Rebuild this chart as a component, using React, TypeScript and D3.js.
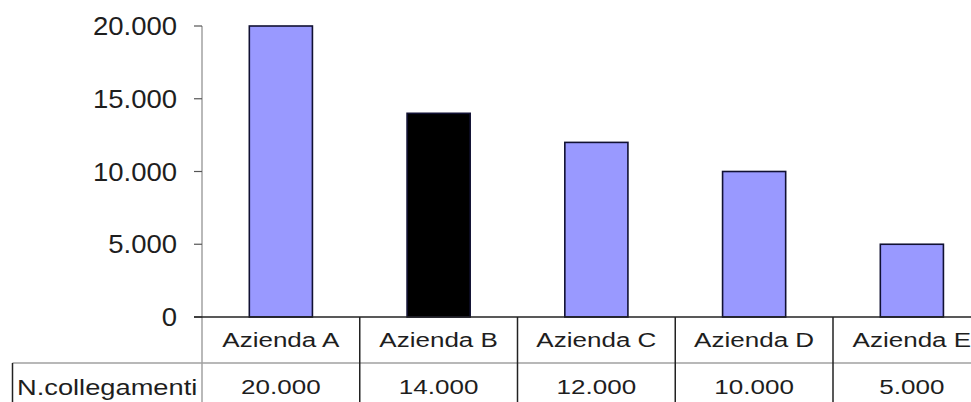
import React from "react";
import * as d3 from "d3";

const categories = ["Azienda A", "Azienda B", "Azienda C", "Azienda D", "Azienda E"];
const values = [20000, 14000, 12000, 10000, 5000];
const barColors = ["#9999ff", "#000000", "#9999ff", "#9999ff", "#9999ff"];
const yTicks = [0, 5000, 10000, 15000, 20000];
const rowLabel = "N.collegamenti";

const W = 971;
const H = 402;
const axisX = 202;
const step = 157.75;
const y0 = 317;
const yTop = 26;
const rowLineY = 363;
const font = "'Liberation Sans', Arial, sans-serif";
const textColor = "#1e1e1e";

const itLocale = d3.formatLocale({ decimal: ",", thousands: ".", grouping: [3], currency: ["€", ""] });
const fmt = itLocale.format(",");

export default function App() {
  const x = d3
    .scaleBand<string>()
    .domain(categories)
    .range([axisX, axisX + step * categories.length])
    .paddingInner(0.6)
    .paddingOuter(0.3);
  const y = d3.scaleLinear().domain([0, 20000]).range([y0, yTop]);
  const st = x.step();
  const bw = x.bandwidth();
  const sx = 1.24;

  return (
    <svg
      width={W}
      height={H}
      style={{ position: "absolute", left: 0, top: 0, background: "#fff" }}
    >
      <rect x={0} y={0} width={W} height={H} fill="#fff" />
      {/* y axis */}
      <line x1={axisX} x2={axisX} y1={y(20000)} y2={H} stroke="#8a8a8a" strokeWidth={1.2} />
      {yTicks.map((t) => (
        <g key={t}>
          <line x1={axisX - 8} x2={axisX} y1={y(t)} y2={y(t)} stroke="#555" strokeWidth={1.2} />
          <g transform={`translate(${axisX - 25},${y(t) + 9}) scale(1.1,1)`}>
            <text textAnchor="end" fontFamily={font} fontSize={25} fill={textColor}>
              {fmt(t)}
            </text>
          </g>
        </g>
      ))}
      {/* bars */}
      {categories.map((c, i) => (
        <rect
          key={c}
          x={x(c)!}
          y={y(values[i])}
          width={bw}
          height={y(0) - y(values[i])}
          fill={barColors[i]}
          stroke="#111133"
          strokeWidth={1.6}
        />
      ))}
      {/* table */}
      <line x1={12.5} x2={W} y1={rowLineY} y2={rowLineY} stroke="#a0a0a0" strokeWidth={1.5} />
      <line x1={12.5} x2={12.5} y1={rowLineY} y2={H} stroke="#222" strokeWidth={1.5} />
      {categories.slice(1).map((c) => (
        <line
          key={c}
          x1={x(c)! - st * 0.3}
          x2={x(c)! - st * 0.3}
          y1={y0}
          y2={H}
          stroke="#222"
          strokeWidth={1.5}
        />
      ))}
      <line x1={axisX - 8} x2={W} y1={y0} y2={y0} stroke="#222" strokeWidth={1.6} />
      {categories.map((c, i) => {
        const cx = x(c)! + bw / 2;
        return (
          <g key={c}>
            <g transform={`translate(${cx},${347}) scale(${sx},1)`}>
              <text textAnchor="middle" fontFamily={font} fontSize={21} fill={textColor}>
                {c}
              </text>
            </g>
            <g transform={`translate(${cx},${394}) scale(${sx},1)`}>
              <text textAnchor="middle" fontFamily={font} fontSize={21} fill={textColor}>
                {fmt(values[i])}
              </text>
            </g>
          </g>
        );
      })}
      <g transform={`translate(17,395) scale(1.24,1)`}>
        <text fontFamily={font} fontSize={22} fill={textColor}>
          {rowLabel}
        </text>
      </g>
    </svg>
  );
}
